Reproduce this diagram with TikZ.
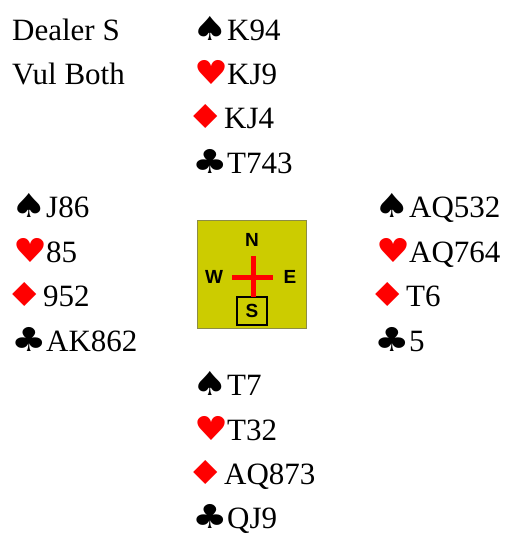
\documentclass[tikz,border=0pt]{standalone}
\usepackage{graphicx}
\usepackage{fontspec}
\setmainfont{Liberation Serif}
\newfontfamily\suitfont{DejaVu Sans}
\newfontfamily\dirfont{Liberation Sans}
\usetikzlibrary{positioning}
\definecolor{cyellow}{HTML}{CCCC00}
\definecolor{colive}{HTML}{8C8C46}
\definecolor{cred}{HTML}{FF0000}
% suit symbols
\newcommand{\suitbox}[2]{\makebox[29pt][r]{\scalebox{#1}[1]{\suitfont\fontsize{33}{33}\selectfont #2}\hspace{-1pt}}}
\newcommand{\spd}{\suitbox{1.2}{♠}}
\newcommand{\hrt}{\suitbox{1.15}{\color{cred}♥}}
\newcommand{\dmd}{\suitbox{1.3}{\color{cred}♦}}
\newcommand{\clb}{\suitbox{1.2}{♣}}
\tikzset{
  card/.style={anchor=base west, inner sep=0pt, font=\fontsize{31}{36}\selectfont},
  dir/.style={inner sep=0pt, font=\dirfont\bfseries\fontsize{19}{19}\selectfont},
  cross/.style={draw=cred, line width=5pt},
}
\begin{document}
\begin{tikzpicture}[x=1pt, y=-1pt]
  \useasboundingbox (0,0) rectangle (507,536);
  % deal info
  \node[card] (dealer) at (12,40) {Dealer S};
  \node[card] (vul) at (12,84.45) {Vul Both};
  % north
  \node[card] (ns) at (198,40) {\spd K94};
  \node[card] (nh) at (198,84.45) {\hrt KJ9};
  \node[card] (nd) at (195,128.9) {\dmd KJ4};
  \node[card] (nc) at (198,173.35) {\clb T743};
  % west
  \node[card] (ws) at (17,217.8) {\spd J86};
  \node[card] (wh) at (17,262.25) {\hrt 85};
  \node[card] (wd) at (14,306.7) {\dmd 952};
  \node[card] (wc) at (17,351.15) {\clb AK862};
  % east
  \node[card] (es) at (380,217.8) {\spd AQ532};
  \node[card] (eh) at (380,262.25) {\hrt AQ764};
  \node[card] (ed) at (377,306.7) {\dmd T6};
  \node[card] (ec) at (380,351.15) {\clb 5};
  % south
  \node[card] (ss) at (198,395.6) {\spd T7};
  \node[card] (sh) at (198,440.05) {\hrt T32};
  \node[card] (sd) at (195,484.5) {\dmd AQ873};
  \node[card] (sc) at (198,528.95) {\clb QJ9};
  % compass
  \node[draw=colive, fill=cyellow, line width=1.5pt, minimum width=109pt, minimum height=108pt, inner sep=0pt] (compass) at (252,274.5) {};
  \node[dir] (cn) at (252,240) {N};
  \node[dir] (cw) at (214,277) {W};
  \node[dir] (ce) at (290,277) {E};
  \node[dir, draw, line width=2pt, minimum width=30pt, minimum height=28pt] (cs) at (252,311) {S};
  \draw[cross] (232,277) -- (273,277);
  \draw[cross] (253,256) -- (253,297);
\end{tikzpicture}
\end{document}
